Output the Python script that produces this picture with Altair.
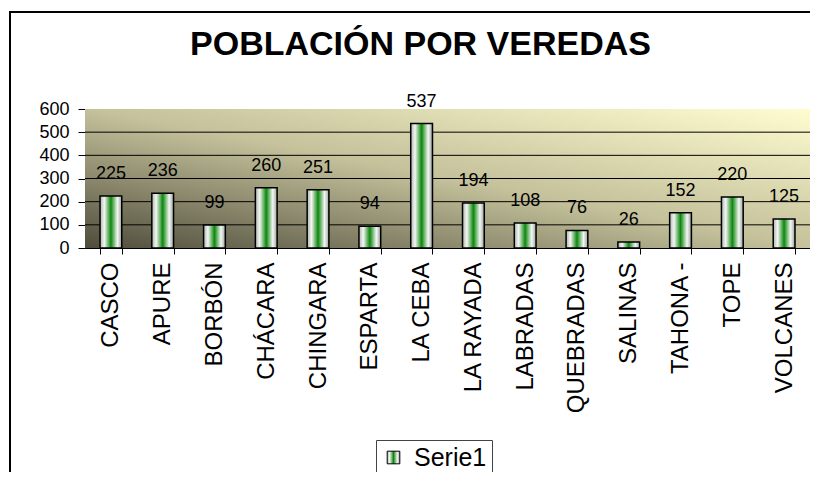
import altair as alt
import pandas as pd

categories = ["CASCO", "APURE", "BORBÓN", "CHÁCARA", "CHINGARA", "ESPARTA", "LA CEBA",
              "LA RAYADA", "LABRADAS", "QUEBRADAS", "SALINAS", "TAHONA -", "TOPE", "VOLCANES"]
values = [225, 236, 99, 260, 251, 94, 537, 194, 108, 76, 26, 152, 220, 125]
series_name = "Serie1"
y_ticks = [0, 100, 200, 300, 400, 500, 600]
grid_values = [100, 200, 300, 400, 500]
title_text = "POBLACIÓN POR VEREDAS"

FONT = "Liberation Sans, Arial, sans-serif"
W, H = 725, 139

df = pd.DataFrame({"vereda": categories, "poblacion": values, "serie": [series_name] * len(values)})
grid_df = pd.DataFrame({"poblacion": grid_values})

bar_grad = alt.LinearGradient(
    gradient="linear", x1=0, y1=0, x2=1, y2=0,
    stops=[
        alt.GradientStop(offset=0, color="#aab2aa"),
        alt.GradientStop(offset=0.2, color="#f4f6f4"),
        alt.GradientStop(offset=0.5, color="#0c870c"),
        alt.GradientStop(offset=0.8, color="#f4f6f4"),
        alt.GradientStop(offset=1, color="#9aa29a"),
    ],
)
bg_grad = alt.LinearGradient(
    gradient="linear", x1=0, y1=1, x2=1, y2=0,
    stops=[
        alt.GradientStop(offset=0, color="#4f4c3c"),
        alt.GradientStop(offset=0.5, color="#c4c19b"),
        alt.GradientStop(offset=1, color="#fffdd0"),
    ],
)

one = pd.DataFrame({"a": [0]})

frame = alt.Chart(one).mark_rect(fill=None, stroke="black", strokeWidth=2).encode(
    x=alt.value(-75), x2=alt.value(W + 40), y=alt.value(-97), y2=alt.value(H + 260)
)

background = alt.Chart(one).mark_rect(fill=bg_grad).encode(
    x=alt.value(0), x2=alt.value(W), y=alt.value(0), y2=alt.value(H)
)

y_scale = alt.Scale(domain=[0, 600], nice=False)
y_axis = alt.Axis(values=y_ticks, labelFontSize=18, labelFont=FONT, labelColor="black",
                  labelPadding=9, tickSize=7, tickColor="black", domainColor="black",
                  labelOverlap=False, grid=False)

grid = alt.Chart(grid_df).mark_rule(color="black", strokeWidth=1).encode(
    y=alt.Y("poblacion:Q", title=None, scale=y_scale, axis=y_axis)
)

x_enc = alt.X(
    "vereda:N", sort=categories, title=None,
    scale=alt.Scale(paddingInner=0.58, paddingOuter=0.29),
    axis=alt.Axis(labelAngle=-90, labelFontSize=24, labelFont=FONT, labelColor="black",
                  labelPadding=8, tickSize=6, tickColor="black", domainColor="black",
                  tickBand="extent", labelOverlap=False, labelLimit=300, grid=False),
)
y_enc = alt.Y("poblacion:Q", title=None, scale=y_scale, axis=y_axis)

bars = alt.Chart(df).mark_bar(fill=bar_grad, strokeWidth=1.5).encode(
    x=x_enc, y=y_enc,
    stroke=alt.Stroke("serie:N", scale=alt.Scale(range=["black"]),
                      legend=alt.Legend(title=None, orient="none", legendX=291, legendY=331,
                                        symbolType="square", symbolSize=160,
                                        symbolStrokeColor="black", symbolStrokeWidth=1,
                                        labelFontSize=25, labelFont=FONT, labelColor="black",
                                        labelOffset=8,
                                        strokeColor="#444", padding=5, fillColor="white")),
)

labels = alt.Chart(df).mark_text(baseline="bottom", dy=-13, fontSize=18, font=FONT, color="black").encode(
    x=alt.X("vereda:N", sort=categories),
    y=y_enc,
    text=alt.Text("poblacion:Q"),
)

chart = alt.layer(frame, background, grid, bars, labels).properties(
    width=W, height=H,
    title=alt.TitleParams(title_text, font=FONT, fontSize=34, fontWeight="bold", color="black",
                          anchor="middle", dx=-27, offset=-51),
    autosize=alt.AutoSizeParams(type="none"),
    padding={"left": 77, "top": 101, "right": 0, "bottom": 224},
).configure_view(stroke=None).configure(background="white")

chart.save("out.html", embed_options={"renderer": "svg", "actions": False})
